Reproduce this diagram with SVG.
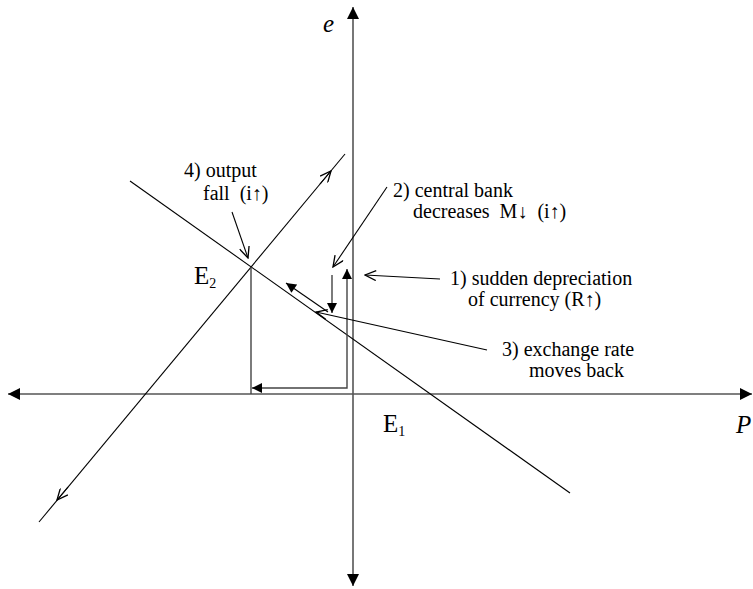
<svg xmlns="http://www.w3.org/2000/svg" width="753" height="589" viewBox="0 0 753 589" font-family="Liberation Serif, DejaVu Serif, Times New Roman, serif">
<style>
text{font-family:'Liberation Serif','DejaVu Serif','Times New Roman',serif;fill:#000}
.lbl{font-size:20px}
.big{font-size:25px}
.sub{font-size:14px}
.ax{stroke:#555;stroke-width:1.6;fill:none}
.ln{stroke:#000;stroke-width:1.1;fill:none}
.gr{stroke:#444;stroke-width:1.4;fill:none}
</style>
<defs>
<marker id="axh" markerUnits="userSpaceOnUse" viewBox="0 0 10 10" refX="10" refY="5" markerWidth="15" markerHeight="12" orient="auto"><path d="M0,0 L10,5 L0,10 z" fill="#000"/></marker>
<marker id="fil" markerUnits="userSpaceOnUse" viewBox="0 0 10 10" refX="10" refY="5" markerWidth="11" markerHeight="10" orient="auto"><path d="M0,0 L10,5 L0,10 z" fill="#000"/></marker>
<marker id="opn" markerUnits="userSpaceOnUse" viewBox="0 0 10 10" refX="10" refY="5" markerWidth="13" markerHeight="11" orient="auto"><path d="M0,0.5 L10,5 L0,9.5" fill="none" stroke="#000" stroke-width="1.2"/></marker>
</defs>
<g id="connectors">
<line id="x-axis" class="ax" x1="100" y1="394" x2="752" y2="394" marker-end="url(#axh)"/>
<line class="ax" x1="100" y1="394" x2="8" y2="394" marker-end="url(#axh)"/>
<line id="y-axis" class="ax" x1="353" y1="300" x2="353" y2="7" marker-end="url(#axh)"/>
<line class="ax" x1="353" y1="300" x2="353" y2="586" marker-end="url(#axh)"/>
<line id="up-line" class="ln" x1="39" y1="522" x2="345" y2="154"/>
<line class="ln" x1="320" y1="184" x2="331" y2="171" marker-end="url(#opn)"/>
<line class="ln" x1="68" y1="487" x2="57" y2="500" marker-end="url(#opn)"/>
<line id="down-line" class="ln" x1="130" y1="181" x2="570" y2="493"/>
<line id="drop" class="gr" x1="251" y1="267" x2="251" y2="394"/>
<polyline class="gr" points="347,300 347,388 252,388" marker-end="url(#fil)"/>
<line class="gr" x1="347" y1="300" x2="347" y2="269" marker-end="url(#fil)"/>
<line class="gr" x1="332" y1="275" x2="332" y2="313" marker-end="url(#fil)"/>
<line class="ln" x1="328" y1="312" x2="286" y2="283" marker-end="url(#fil)"/>
<line class="ln" x1="440" y1="279" x2="365" y2="275" marker-end="url(#opn)"/>
<line class="ln" x1="387" y1="187" x2="333" y2="267" marker-end="url(#opn)"/>
<line class="ln" x1="487" y1="350" x2="316" y2="312" marker-end="url(#opn)"/>
<line class="ln" x1="232" y1="212" x2="248" y2="258" marker-end="url(#opn)"/>
</g>
<g id="axis-labels">
<text x="323" y="32" class="big" font-style="italic">e</text>
<text x="736" y="433" class="big" font-style="italic">P</text>
</g>
<g id="E1"><text x="383" y="432" class="big">E<tspan class="sub" dy="4">1</tspan></text></g>
<g id="E2"><text x="194" y="284" class="big">E<tspan class="sub" dy="4">2</tspan></text></g>
<g id="label1">
<text x="450" y="285" class="lbl">1) sudden depreciation</text>
<text x="468" y="306" class="lbl">of currency (R↑)</text>
</g>
<g id="label2">
<text x="393" y="197" class="lbl">2) central bank</text>
<text x="413" y="218" class="lbl">decreases&#160; M↓&#160; (i↑)</text>
</g>
<g id="label3">
<text x="502" y="356" class="lbl">3) exchange rate</text>
<text x="529" y="377" class="lbl">moves back</text>
</g>
<g id="label4">
<text x="184" y="177" class="lbl">4) output</text>
<text x="203" y="200" class="lbl">fall&#160; (i↑)</text>
</g>
</svg>
